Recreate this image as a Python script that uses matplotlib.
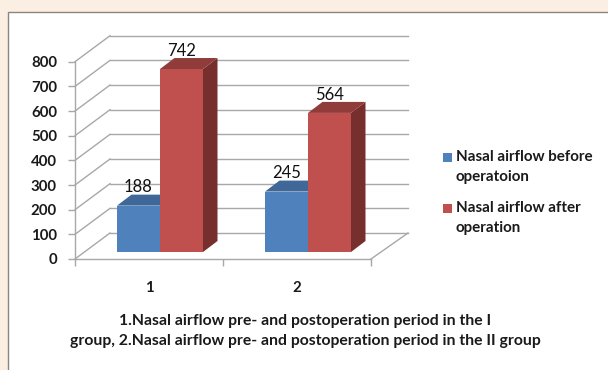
import matplotlib
matplotlib.use("Agg")
import matplotlib.pyplot as plt
from matplotlib.patches import Polygon, Rectangle

groups = [1, 2]
before = [188, 245]
after = [742, 564]
y_ticks = [0, 100, 200, 300, 400, 500, 600, 700, 800]
series_names = ["Nasal airflow before\noperatoion", "Nasal airflow after\noperation"]
caption = ("1.Nasal airflow pre- and postoperation period in the I\n"
           "group, 2.Nasal airflow pre- and postoperation period in the II group")

W, H = 608, 370
PX_X = 148.0  # pixels per category
PX_Y = 0.2466  # pixels per value unit

plt.rcParams["font.family"] = ["Lato", "DejaVu Sans"]
TEXT = "#1a1a1a"
GRID = "#a8a8a8"

fig = plt.figure(figsize=(W / 100, H / 100), dpi=100, facecolor="#fbeee3")
fig.add_artist(Rectangle((8 / W, -0.1), 1.1, 1.1 - 12 / H, transform=fig.transFigure,
                         facecolor="white", edgecolor="#8c857e", linewidth=1.0, zorder=-1))

ax = fig.add_axes([0, 0, 1, 1])
ax.patch.set_visible(False)
# x=1 sits at pixel 149, value 0 at pixel row 259
ax.set_xlim(1 - 149 / PX_X, 1 + (W - 149) / PX_X)
ax.set_ylim((259 - H) / PX_Y, 259 / PX_Y)

# back wall and its diagonals
wall_dx_l, wall_dx_r = 35 / PX_X, 37 / PX_X
wall_dy = 26 / PX_Y
x_left, x_right = 0.5, 2.5
for v in y_ticks:
    ax.plot([x_left, x_left + wall_dx_l], [v, v + wall_dy], color=GRID, lw=1.0, zorder=1)
    ax.plot([x_left + wall_dx_l, x_right + wall_dx_r], [v + wall_dy, v + wall_dy],
            color=GRID, lw=1.0, zorder=1)
ax.plot([x_right, x_right + wall_dx_r], [0, wall_dy], color=GRID, lw=1.0, zorder=1)

# axes
for side in ["top", "right"]:
    ax.spines[side].set_visible(False)
ax.spines["left"].set_position(("data", x_left))
ax.spines["left"].set_bounds(0, 800)
ax.spines["bottom"].set_position(("data", 0))
ax.spines["bottom"].set_bounds(x_left, x_right)
for side in ["left", "bottom"]:
    ax.spines[side].set_color(GRID)
    ax.spines[side].set_linewidth(1.0)
ax.set_yticks(y_ticks)
ax.set_yticklabels([str(v) for v in y_ticks], fontsize=10.8, fontweight="bold", color=TEXT)
ax.set_xticks([0.5, 1.5, 2.5])
ax.set_xticklabels([])
ax.set_xticks(groups, [str(g) for g in groups], minor=True, fontsize=10.8,
              fontweight="bold", color=TEXT)
ax.tick_params(axis="y", length=5, width=1.0, color=GRID, pad=8)
ax.tick_params(axis="x", which="major", length=5, width=1.0, color=GRID)
ax.tick_params(axis="x", which="minor", length=0, pad=16)

# bars
base = 7 / PX_Y
bar_w = 43 / PX_X
depth_x, depth_y = 14.5 / PX_X, 11 / PX_Y
styles = [("#4f81bd", "#3f6797", "#385d8a", -32 / PX_X),
          ("#c0504d", "#8f3c3a", "#772f2d", 11 / PX_X)]
for values, (front, top, side, off) in zip([before, after], styles):
    for g, v in zip(groups, values):
        x0 = g + off
        x1 = x0 + bar_w
        y1 = base + v
        ax.add_patch(Polygon([(x1, base), (x1 + depth_x, base + depth_y),
                              (x1 + depth_x, y1 + depth_y), (x1, y1)],
                             facecolor=side, edgecolor="none", zorder=3))
        ax.add_patch(Polygon([(x0, y1), (x0 + depth_x, y1 + depth_y),
                              (x1 + depth_x, y1 + depth_y), (x1, y1)],
                             facecolor=top, edgecolor="none", zorder=3))
        ax.bar(x0, v, width=bar_w, bottom=base, align="edge", color=front, zorder=4)
        ax.text(x0 + bar_w / 2, y1 + depth_y - 3, str(v), ha="center", va="bottom",
                fontsize=12, color="#111111", zorder=5)

# legend
for name, color, row in zip(series_names, ["#4f81bd", "#c0504d"], [157, 208]):
    fig.add_artist(Rectangle((443 / W, 1 - (row + 4.5) / H), 9 / W, 9 / H,
                             transform=fig.transFigure, facecolor=color, edgecolor="none"))
    fig.text(456 / W, 1 - (row - 6.5) / H, name, ha="left", va="top", fontsize=10.9,
             fontweight="bold", color=TEXT, linespacing=1.52)

fig.text(305 / W, 1 - 331 / H, caption, ha="center", va="center", fontsize=11.3,
         fontweight="bold", color=TEXT, linespacing=1.58)

fig.savefig("out.png", dpi=100, facecolor=fig.get_facecolor())
